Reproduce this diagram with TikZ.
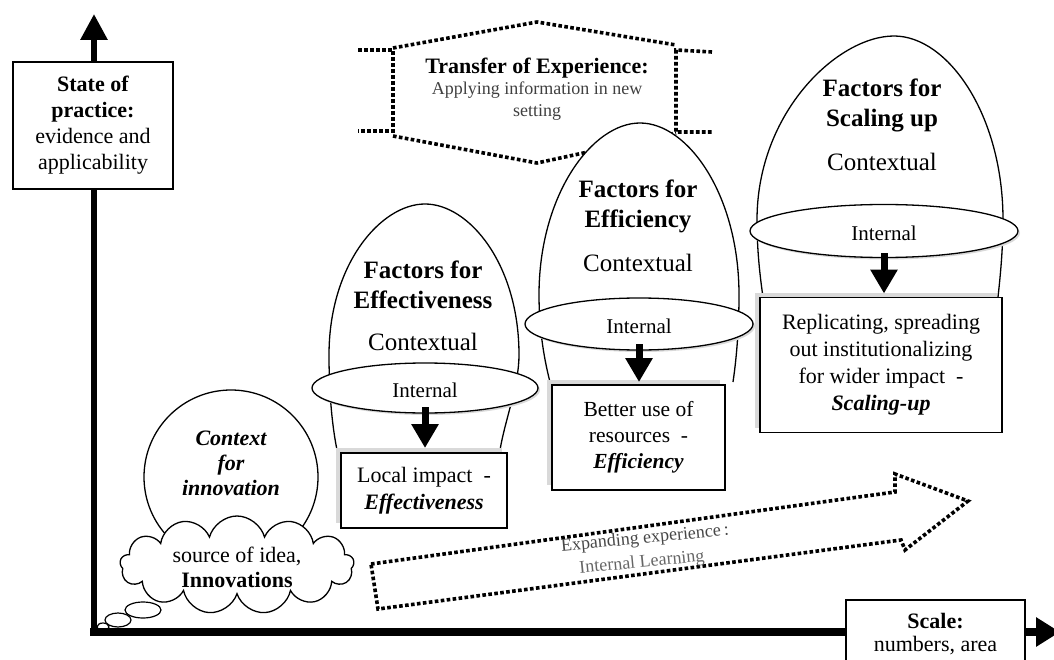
\documentclass[tikz,border=0pt]{standalone}
\usepackage{fontspec}
\setmainfont{Liberation Serif}
\usetikzlibrary{shapes.geometric,shapes.symbols,arrows.meta,shadows,calc}
\newcommand\fsz[2]{\fontsize{#1}{#2}\selectfont}
\tikzset{
  every node/.style={inner sep=0pt, outer sep=0pt},
  axisline/.style={line width=#1, line cap=rect},
  dotline/.style={line width=3.6pt, dash pattern=on 3.6pt off 2.4pt},
  eggline/.style={line width=1.3pt},
  boxst/.style={draw, line width=1.4pt, fill=white, align=center,
    drop shadow={shadow xshift=-5pt, shadow yshift=5pt, fill=gray!30, opacity=1}},
  ellst/.style={ellipse, draw, line width=1.3pt, fill=white,
    drop shadow={shadow xshift=2pt, shadow yshift=-2pt, fill=gray!30, opacity=1}},
  downarrow/.style={line width=7pt, -{Triangle[width=26pt,length=24pt]}},
  titletext/.style={align=center, font=\fsz{25}{30}\bfseries},
  ctxtext/.style={font=\fsz{25}{30}},
  inttext/.style={font=\fsz{21}{24}},
  axbox/.style={draw, line width=1.3pt, fill=white, align=center},
}
\begin{document}
\begin{tikzpicture}[x=1pt,y=-1pt]
\useasboundingbox (0,0) rectangle (1054,660);
\clip (0,0) rectangle (1054,660);

% ---------- Transfer of experience (dotted up-down arrow) ----------
\draw[dotline] (358,50) -- (393,50) -- (393,131) -- (358,131);
\draw[dotline] (393,48) -- (537,22) -- (676,45);
\draw[dotline] (712,52) -- (676,50) -- (676,132) -- (712,132);
\draw[dotline] (393,136) -- (537,163) -- (676,133);
\node[font=\fsz{22}{22}\bfseries] (transfer) at (537,68) {Transfer of Experience:};
\node[align=center, font=\fsz{18}{22.5}, text=black!75] (transfer2) at (537,101)
  {Applying information in new\\setting};

% ---------- Egg 1: Effectiveness ----------
\fill[white] (337,450) .. controls (331,420) and (329,385) .. (329,355)
  .. controls (329,264) and (381,204) .. (425,204)
  .. controls (469,204) and (519,264) .. (519,355)
  .. controls (519,385) and (505,420) .. (500,450) -- cycle;
\draw[eggline] (337,450) .. controls (331,420) and (329,385) .. (329,355)
  .. controls (329,264) and (381,204) .. (425,204)
  .. controls (469,204) and (519,264) .. (519,355)
  .. controls (519,385) and (505,420) .. (500,450);
\node[titletext] (t1) at (423,285) {Factors for\\Effectiveness};
\node[ctxtext] (c1) at (423,342) {Contextual};

% ---------- Egg 2: Efficiency ----------
\fill[white] (550,382) .. controls (543,355) and (539,325) .. (539,295)
  .. controls (539,195) and (592,123) .. (640,123)
  .. controls (688,123) and (739,195) .. (739,295)
  .. controls (739,325) and (737,355) .. (733,382) -- cycle;
\draw[eggline] (550,382) .. controls (543,355) and (539,325) .. (539,295)
  .. controls (539,195) and (592,123) .. (640,123)
  .. controls (688,123) and (739,195) .. (739,295)
  .. controls (739,325) and (737,355) .. (733,382);
\node[titletext] (t2) at (638,206) {Factors for\\Efficiency};
\node[ctxtext] (c2) at (638,263) {Contextual};

% ---------- Egg 3: Scaling up ----------
\fill[white] (763,297) .. controls (759,270) and (757,245) .. (757,220)
  .. controls (757,112) and (838,36) .. (894,36)
  .. controls (948,36) and (1003,115) .. (1003,220)
  .. controls (1003,245) and (1001,270) .. (998,297) -- cycle;
\draw[eggline] (763,297) .. controls (759,270) and (757,245) .. (757,220)
  .. controls (757,112) and (838,36) .. (894,36)
  .. controls (948,36) and (1003,115) .. (1003,220)
  .. controls (1003,245) and (1001,270) .. (998,297);
\node[titletext] (t3) at (882,105) {Factors for\\Scaling up};
\node[ctxtext] (c3) at (882,162) {Contextual};

% ---------- Internal ellipses ----------
\node[ellst, minimum width=226pt, minimum height=50pt] (in1) at (425,388) {};
\node[inttext] (in1t) at (425,390) {Internal};
\node[ellst, minimum width=228pt, minimum height=52pt] (in2) at (639,324) {};
\node[inttext] (in2t) at (639,326) {Internal};
\node[ellst, minimum width=268pt, minimum height=53pt] (in3) at (884,231) {};
\node[inttext] (in3t) at (884,233) {Internal};

% ---------- Result boxes ----------
\node[boxst, minimum width=166pt, minimum height=75pt, font=\fsz{22}{27}] (b1) at (424,490.5)
  {Local impact\ \ -\\\textbf{\textit{Effectiveness}}};
\node[boxst, minimum width=173pt, minimum height=105pt, font=\fsz{21.5}{26}] (b2) at (638.5,437.5)
  {Better use of\\resources\ \ -\\\textbf{\textit{Efficiency}}};
\node[boxst, minimum width=242pt, minimum height=135pt, font=\fsz{22}{27}] (b3) at (881,365)
  {Replicating, spreading\\out institutionalizing\\for wider impact\ \ -\\\textbf{\textit{Scaling-up}}};

% ---------- Down arrows ----------
\draw[downarrow, shorten <=-6pt, shorten >=5pt] (in1.south) -- (in1.south |- b1.north);
\draw[downarrow, shorten <=-6pt, shorten >=3pt] (in2.south) -- (in2.south |- b2.north);
\draw[downarrow, shorten <=-4pt, shorten >=4pt] (in3.south) -- (in3.south |- b3.north);

% ---------- Context for innovation ----------
\node[circle, draw, line width=1.3pt, fill=white, minimum size=174pt] (ctx) at (231,477) {};
\node[align=center, font=\fsz{22}{25}\bfseries\itshape] (ctxt) at (231,463) {Context\\for\\innovation};
\node[cloud, cloud puffs=13, cloud ignores aspect, draw, line width=1.3pt, fill=white,
      minimum width=234pt, minimum height=98pt] (cloud) at (237,565) {};
\node[align=center, font=\fsz{22}{25}] (cloudt) at (237,567) {source of idea,\\\textbf{Innovations}};
\draw[line width=1.2pt, fill=white] (143,610) ellipse [x radius=18pt, y radius=8pt];
\draw[line width=1.2pt, fill=white] (118,620) ellipse [x radius=13pt, y radius=7pt];
\draw[line width=1.2pt, fill=white] (103,627) ellipse [x radius=6pt, y radius=4pt];

% ---------- Expanding experience arrow ----------
\draw[dotline] (371,564) -- (895,492) -- (895,474) -- (968,501) -- (905,550)
  -- (901,540) -- (378,609) -- cycle;
\node[rotate=5.5, font=\fsz{18}{20}, text=black!72] (expand) at (645,539)
  {Expanding experience\,:};
\node[rotate=5.5, font=\fsz{18}{20}, text=black!60] (expand2) at (642,563)
  {Internal Learning};

% ---------- Axes ----------
\coordinate (O) at (94,632);
\coordinate (ytip) at (94,14);
\coordinate (xtip) at (1060,632);
\draw[axisline=6pt, -{Triangle[width=26pt,length=26pt]}] (O) -- (ytip);
\draw[axisline=8pt, -{Triangle[width=28pt,length=24pt]}] (O) -- (xtip);
\node[axbox, minimum width=160pt, minimum height=127pt, font=\fsz{22}{26}] (sop) at (93,125.5)
  {\textbf{State of}\\\textbf{practice:}\\evidence and\\applicability};
\node[axbox, minimum width=179pt, minimum height=69pt, font=\fsz{22}{23}] (scale) at (935.5,634.5)
  {\textbf{Scale:}\\numbers, area};
\end{tikzpicture}
\end{document}
